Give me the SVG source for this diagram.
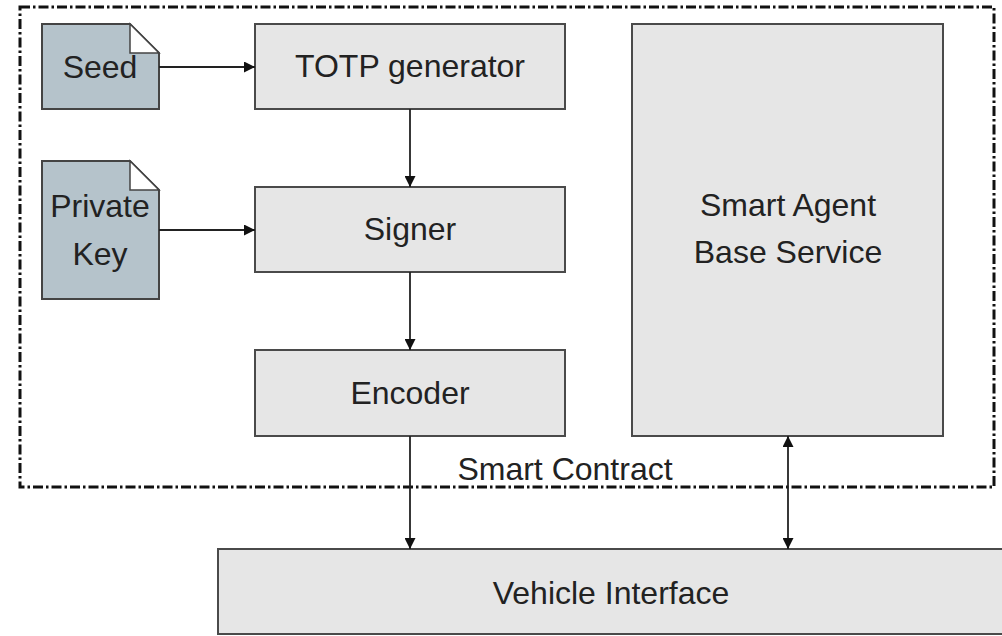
<svg xmlns="http://www.w3.org/2000/svg" width="1002" height="636" viewBox="0 0 1002 636">
<style>
.box{fill:#e6e6e6;stroke:#4a4a4a;stroke-width:2}
.doc{fill:#b5c3cb;stroke:#444;stroke-width:2}
.fold{fill:#fff;stroke:#444;stroke-width:1.5}
.t{font-family:"Liberation Sans",Arial,sans-serif;font-size:32px;fill:#222;text-anchor:middle}
.c{fill:none;stroke:#222;stroke-width:1.8}
.frame{fill:none;stroke:#111;stroke-width:3;stroke-dasharray:10 3 2.5 3}
</style>
<defs>
<marker id="ah" viewBox="0 0 10 10" refX="10" refY="5" markerWidth="11" markerHeight="11" markerUnits="userSpaceOnUse" orient="auto-start-reverse">
<path d="M0,0 L10,5 L0,10 z" fill="#111"/>
</marker>
</defs>
<rect class="frame" x="20" y="7" width="974" height="480"/>
<g id="seed">
<path class="doc" d="M42,24 H130 L159,53 V109 H42 Z"/>
<path class="fold" d="M130,24 L159,53 H130 Z"/>
<text class="t" x="100" y="78">Seed</text>
</g>
<g id="privatekey">
<path class="doc" d="M42,161 H130 L159,190 V299 H42 Z"/>
<path class="fold" d="M130,161 L159,190 H130 Z"/>
<text class="t" x="100" y="217">Private</text>
<text class="t" x="100" y="265">Key</text>
</g>
<g id="totp">
<rect class="box" x="255" y="24" width="310" height="85"/>
<text class="t" x="410" y="77">TOTP generator</text>
</g>
<g id="signer">
<rect class="box" x="255" y="187" width="310" height="85"/>
<text class="t" x="410" y="240">Signer</text>
</g>
<g id="encoder">
<rect class="box" x="255" y="350" width="310" height="86"/>
<text class="t" x="410" y="404">Encoder</text>
</g>
<g id="smartagent">
<rect class="box" x="632" y="24" width="311" height="412"/>
<text class="t" x="788" y="216">Smart Agent</text>
<text class="t" x="788" y="263">Base Service</text>
</g>
<g id="vehicle">
<rect class="box" x="218" y="549" width="790" height="85"/>
<text class="t" x="611" y="604">Vehicle Interface</text>
</g>
<g id="smartcontract-label">
<text class="t" x="565" y="480">Smart Contract</text>
</g>
<g id="connectors">
<line class="c" x1="159" y1="67" x2="255" y2="67" marker-end="url(#ah)"/>
<line class="c" x1="159" y1="230" x2="255" y2="230" marker-end="url(#ah)"/>
<line class="c" x1="410" y1="109" x2="410" y2="187" marker-end="url(#ah)"/>
<line class="c" x1="410" y1="272" x2="410" y2="350" marker-end="url(#ah)"/>
<line class="c" x1="410" y1="436" x2="410" y2="549" marker-end="url(#ah)"/>
<line class="c" x1="788" y1="436" x2="788" y2="549" marker-start="url(#ah)" marker-end="url(#ah)"/>
</g>
</svg>
